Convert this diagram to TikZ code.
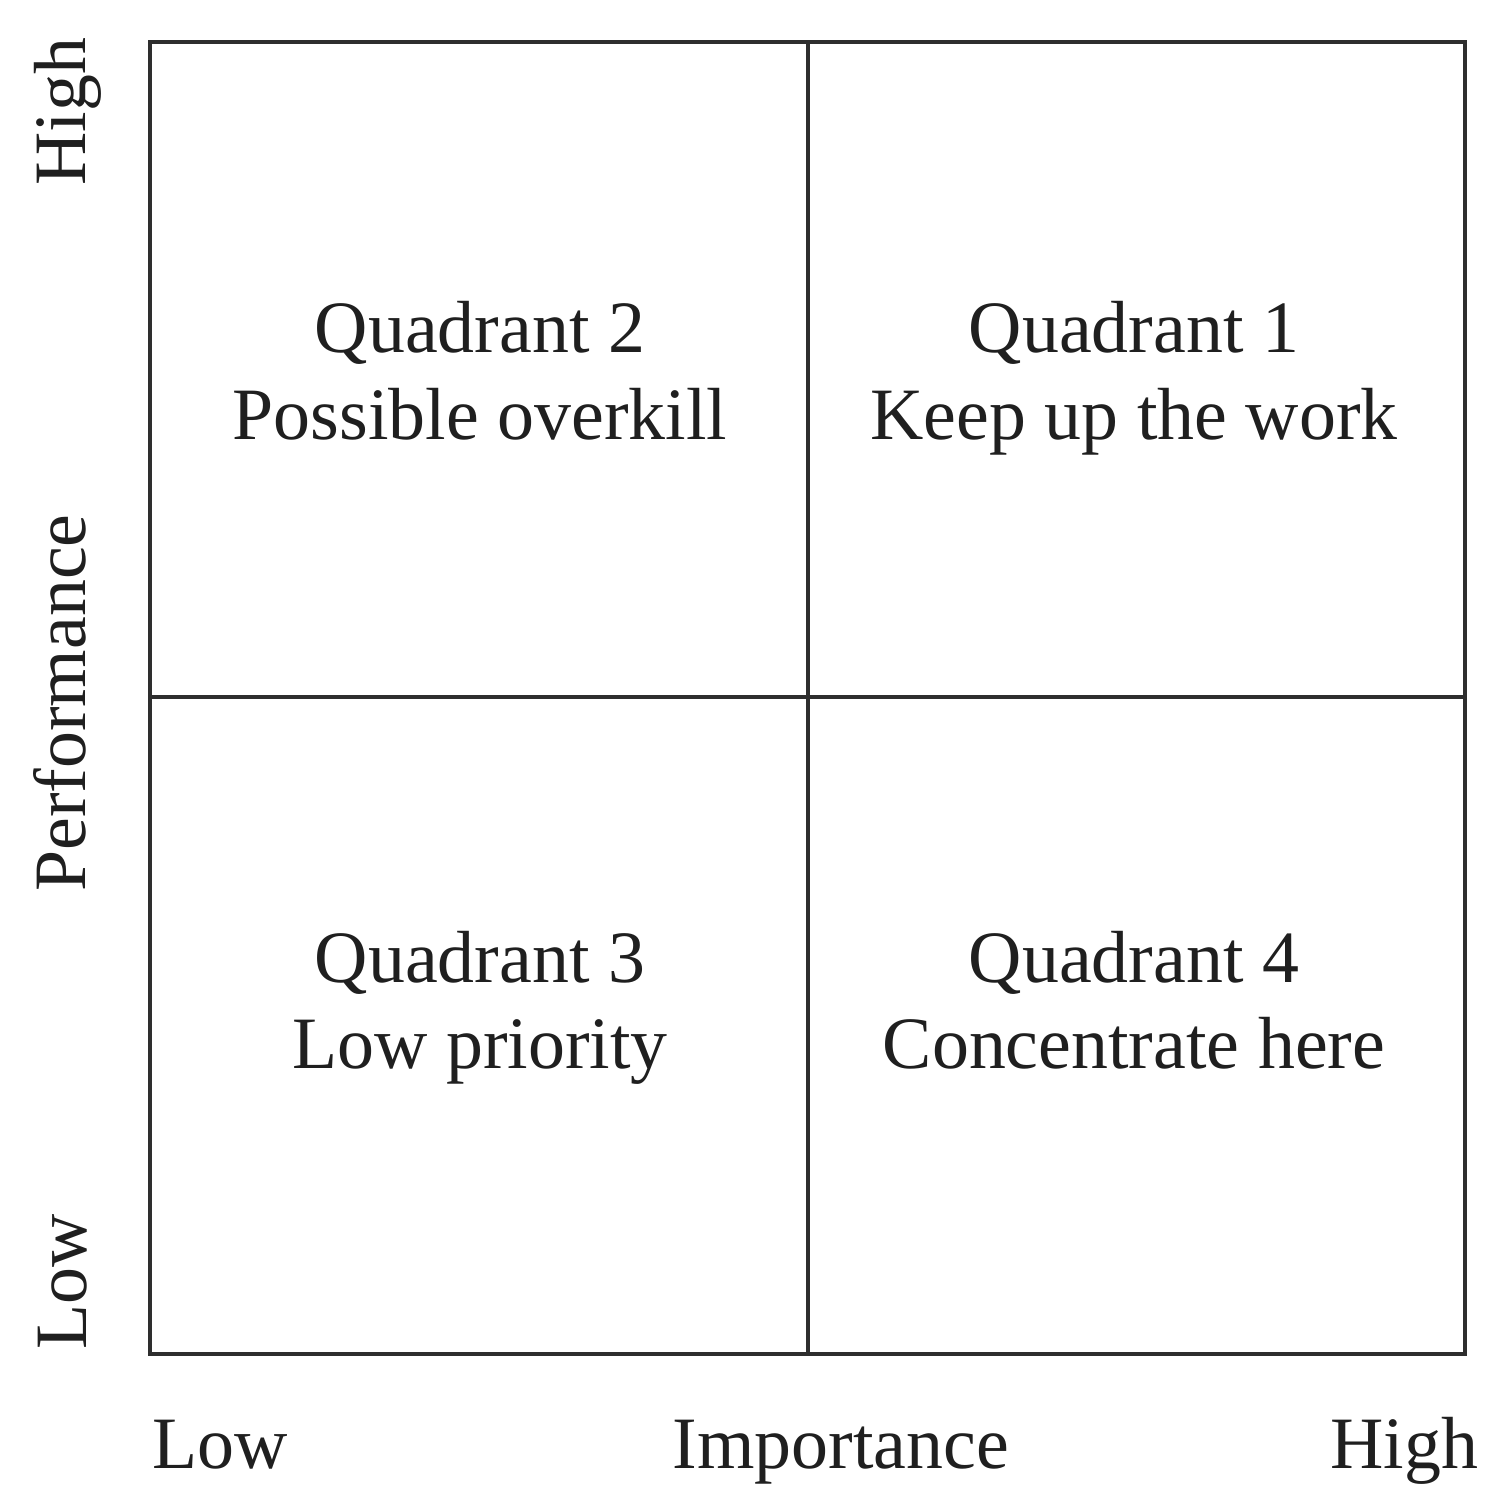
\documentclass[tikz,border=0pt]{standalone}
\usepackage{fontspec}
\setmainfont{Liberation Serif}
\begin{document}
\begin{tikzpicture}[x=0.01cm,y=-0.01cm,
  frame/.style={line width=1.35pt,draw=black!82},
  txt/.style={inner sep=0pt,text=black!88,font=\fontsize{21}{25}\selectfont},
  vtxt/.style={txt,rotate=90}]
\useasboundingbox (0,0) rectangle (1503,1509);
\coordinate (tl) at (150,42);
\coordinate (br) at (1465,1354);
\coordinate (mt) at (808,42);
\coordinate (mb) at (808,1354);
\coordinate (ml) at (150,697);
\coordinate (mr) at (1465,697);
\draw[frame] (tl) rectangle (br);
\draw[frame] (mt) -- (mb);
\draw[frame] (ml) -- (mr);
% quadrant texts
\node[txt,anchor=base] (q2a) at (480,352) {Quadrant 2};
\node[txt,anchor=base] (q2b) at (480,439) {Possible overkill};
\node[txt,anchor=base] (q1a) at (1134,352) {Quadrant 1};
\node[txt,anchor=base] (q1b) at (1134,439) {Keep up the work};
\node[txt,anchor=base] (q3a) at (480,982) {Quadrant 3};
\node[txt,anchor=base] (q3b) at (480,1068) {Low priority};
\node[txt,anchor=base] (q4a) at (1134,982) {Quadrant 4};
\node[txt,anchor=base] (q4b) at (1134,1068) {Concentrate here};
% axis labels
\node[txt,anchor=base west] (xlow) at (152,1468) {Low};
\node[txt,anchor=base] (ximp) at (841,1468) {Importance};
\node[txt,anchor=base east] (xhigh) at (1479,1468) {High};
\node[vtxt,anchor=base west] (ylow) at (86,1350) {Low};
\node[vtxt,anchor=base] (yperf) at (85,703) {Performance};
\node[vtxt,anchor=base east] (yhigh) at (85,37) {High};
\end{tikzpicture}
\end{document}
